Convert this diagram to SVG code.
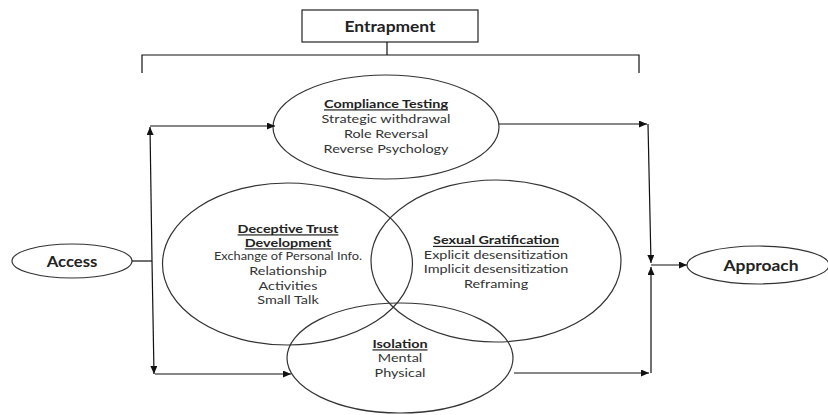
<svg xmlns="http://www.w3.org/2000/svg" width="828" height="415" viewBox="0 0 828 415">
<style>
.el{fill:none;stroke:#333;stroke-width:1.2}
.ln{fill:none;stroke:#111;stroke-width:1.2}
.ar{fill:none;stroke:#111;stroke-width:1.2;marker-end:url(#ah)}
text{font-family:Lato,"Open Sans","Liberation Sans",sans-serif;text-anchor:middle;dominant-baseline:central;fill:#333;font-size:12px}
.h{font-weight:bold;text-decoration:underline;fill:#222}
.b{font-weight:bold;fill:#222;font-size:14.5px}
.s{font-size:10.7px}
</style>
<defs>
<marker id="ah" markerWidth="9" markerHeight="8" refX="8" refY="3.5" orient="auto" markerUnits="userSpaceOnUse">
<path d="M0,0 L8,3.5 L0,7 z" fill="#111"/>
</marker>
</defs>
<g id="entrapment">
<rect x="302" y="10" width="176" height="32" fill="#fff" stroke="#222" stroke-width="1.2"/>
<g transform="matrix(1.2 0 0 1 390 0)"><text class="b" x="0" y="26">Entrapment</text></g>
</g>
<g id="compliance">
<ellipse class="el" cx="386" cy="127" rx="113" ry="52"/>
<g transform="matrix(1.2 0 0 1 386 0)">
<text class="h" x="0" y="103">Compliance Testing</text>
<text x="0" y="118">Strategic withdrawal</text>
<text x="0" y="133">Role Reversal</text>
<text x="0" y="148">Reverse Psychology</text>
</g>
</g>
<g id="deceptive">
<ellipse class="el" cx="287.500" cy="264" rx="125" ry="81"/>
<g transform="matrix(1.2 0 0 1 288 0)">
<text class="h" x="0" y="228">Deceptive Trust</text>
<text class="h" x="0" y="242">Development</text>
<text class="s" x="0" y="256">Exchange of Personal Info.</text>
<text x="0" y="270.500">Relationship</text>
<text x="0" y="285">Activities</text>
<text x="0" y="299.500">Small Talk</text>
</g>
</g>
<g id="sexual">
<ellipse class="el" cx="496" cy="261" rx="125" ry="81"/>
<g transform="matrix(1.2 0 0 1 496 0)">
<text class="h" x="0" y="239.500">Sexual Gratification</text>
<text x="0" y="254">Explicit desensitization</text>
<text x="0" y="268.500">Implicit desensitization</text>
<text x="0" y="283">Reframing</text>
</g>
</g>
<g id="isolation">
<ellipse class="el" cx="400" cy="358" rx="113" ry="55"/>
<g transform="matrix(1.2 0 0 1 400 0)">
<text class="h" x="0" y="343">Isolation</text>
<text x="0" y="357.500">Mental</text>
<text x="0" y="372">Physical</text>
</g>
</g>
<g id="access">
<ellipse class="el" cx="72" cy="261" rx="60" ry="17"/>
<g transform="matrix(1.15 0 0 1 72 0)"><text class="b" x="0" y="261">Access</text></g>
</g>
<g id="approach">
<ellipse class="el" cx="758" cy="265" rx="71" ry="19"/>
<g transform="matrix(1.2 0 0 1 761 0)"><text class="b" x="0" y="265">Approach</text></g>
</g>
<g id="connectors">
<path class="ln" d="M142,73 V55 H639 V73 M387,42 V55"/>
<path class="ln" d="M132,261 H152"/>
<path class="ar" d="M152,261 L150,127"/>
<path class="ar" d="M152,261 L154,374"/>
<path class="ar" d="M150,126 H275"/>
<path class="ar" d="M155,374 H291"/>
<path class="ar" d="M499,124 H647"/>
<path class="ar" d="M648,124 L651,263"/>
<path class="ar" d="M514,373 H649"/>
<path class="ar" d="M651,373 V267"/>
<path class="ar" d="M651,265 H687"/>
</g>
</svg>
